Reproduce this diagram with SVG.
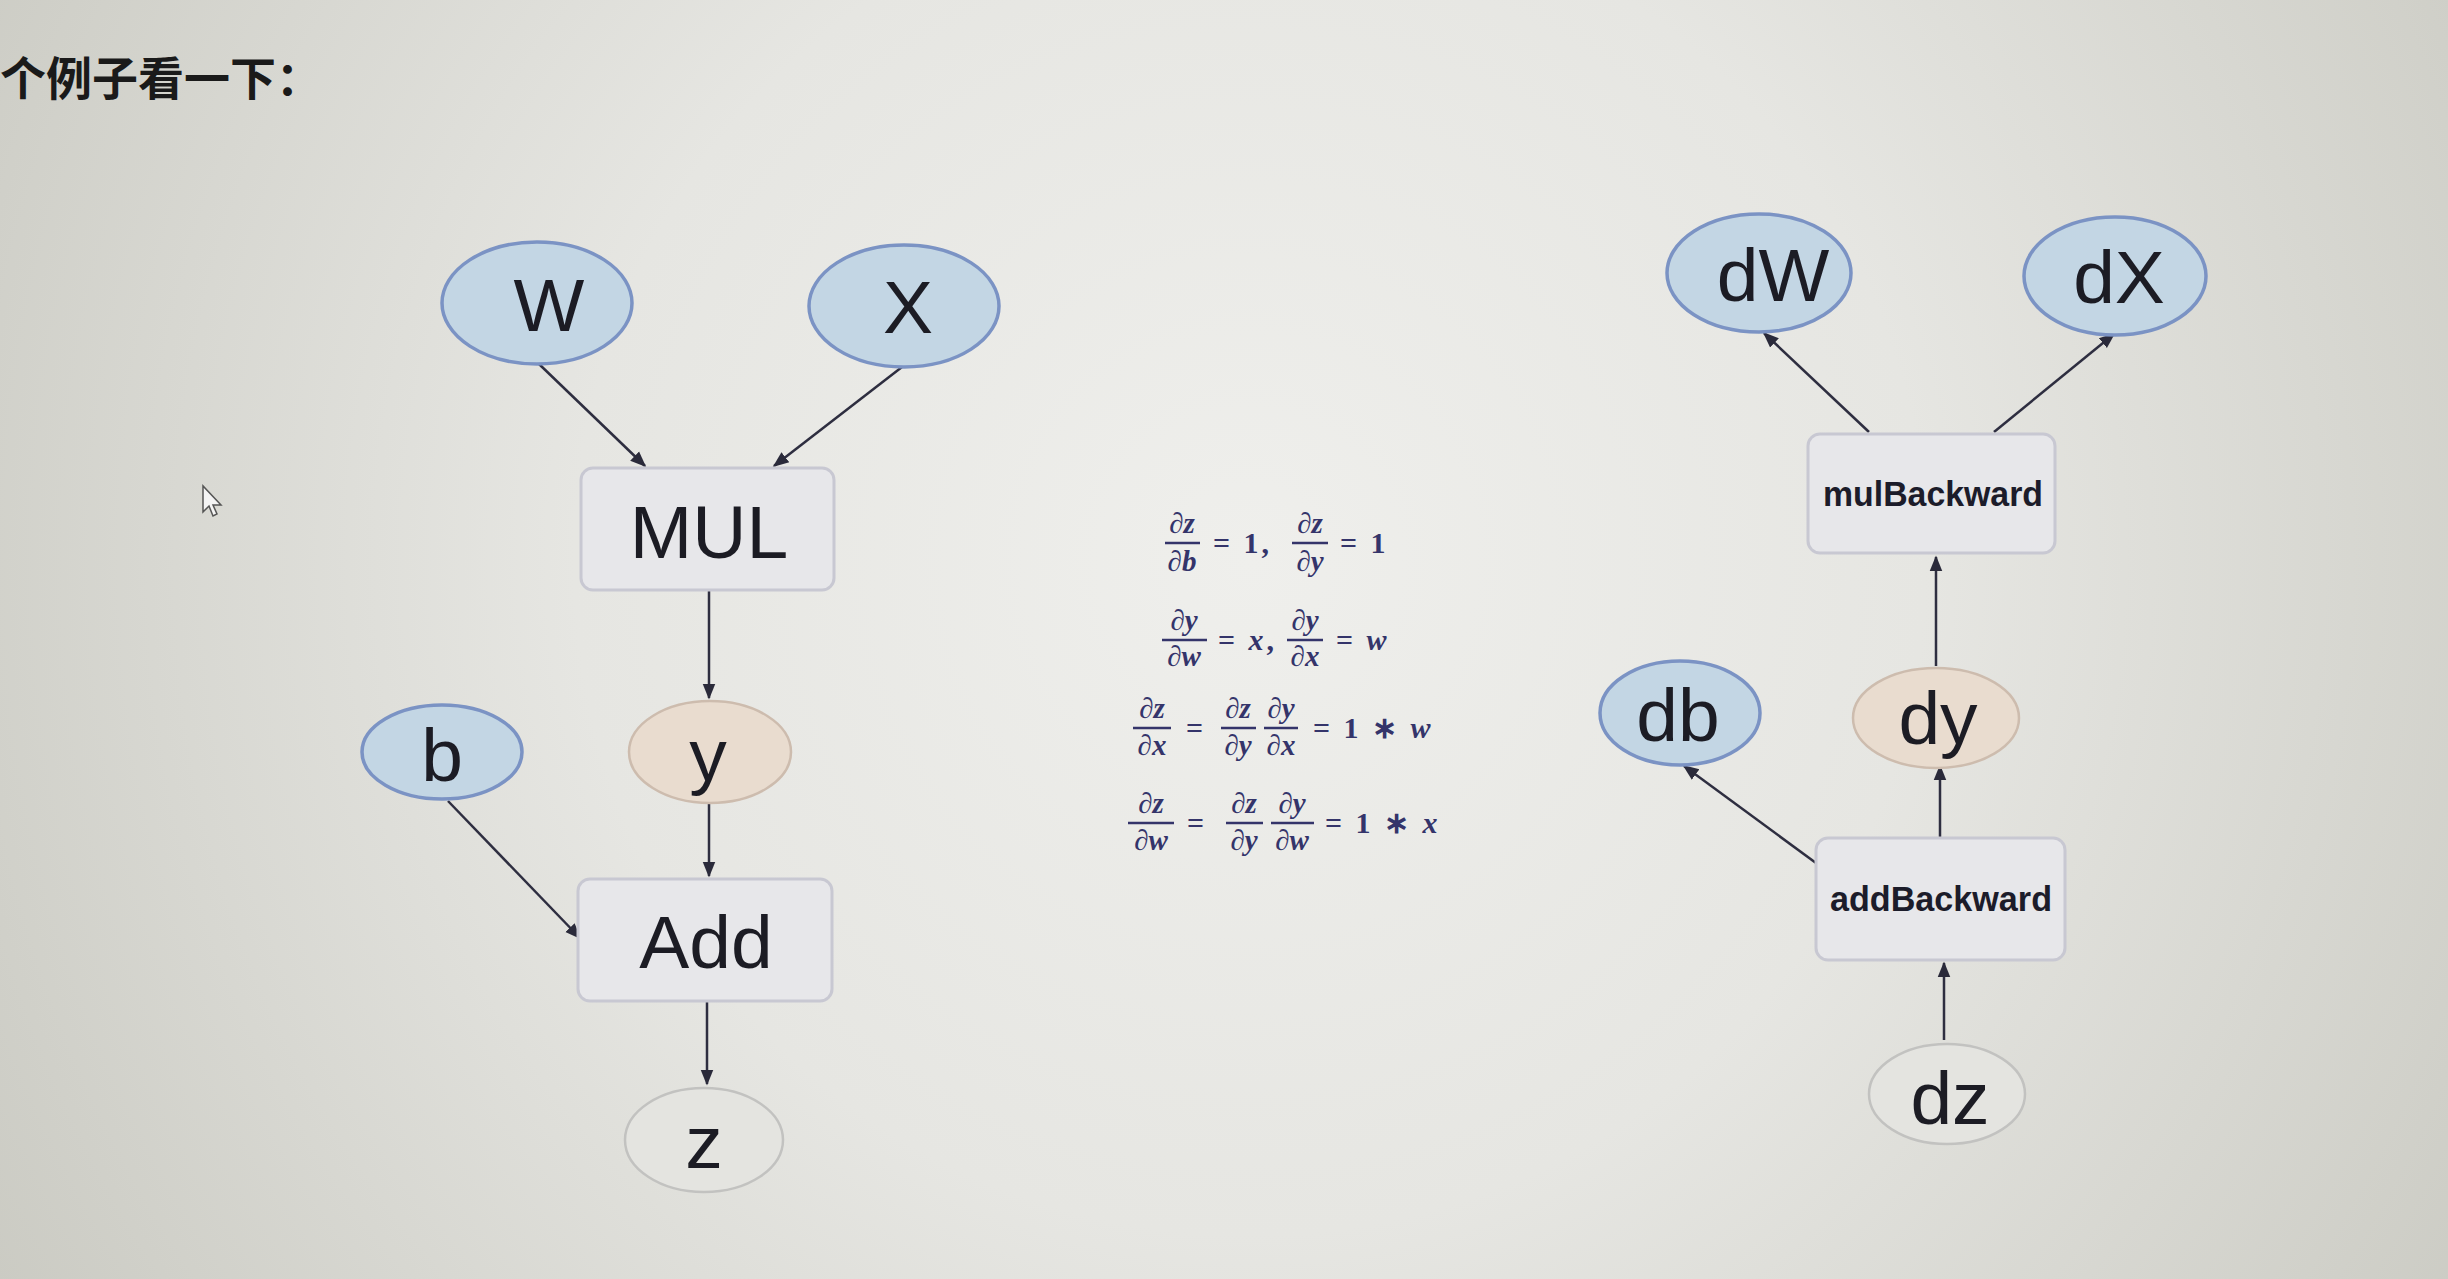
<svg xmlns="http://www.w3.org/2000/svg" width="2448" height="1279" viewBox="0 0 2448 1279">
<defs>
<radialGradient id="bg" cx="1250" cy="560" r="1500" gradientUnits="userSpaceOnUse">
<stop offset="0" stop-color="#efefec"/>
<stop offset="0.45" stop-color="#e6e6e2"/>
<stop offset="1" stop-color="#c9c9c1"/>
</radialGradient>
<marker id="ah2" viewBox="0 0 10 10" refX="9" refY="5" markerWidth="16" markerHeight="16" orient="auto" markerUnits="userSpaceOnUse">
<path d="M0,1 L10,5 L0,9 z" fill="#2a2a3a"/>
</marker>
</defs>
<style>
.blue{fill:#c3d6e4;stroke:#7b93c4;stroke-width:3.5}
.peach{fill:#e9dccf;stroke:#cdbcae;stroke-width:2.5}
.gray{fill:#e4e4e0;stroke:#c2c2c0;stroke-width:2.5}
.box{fill:#e7e7ea;stroke:#c8c8d2;stroke-width:3}
.lbl{font-family:"Liberation Sans",Arial,sans-serif;font-size:75px;fill:#1c1c24;text-anchor:middle}
.slbl{font-family:"Liberation Sans",Arial,sans-serif;font-size:35px;font-weight:bold;fill:#1c1c2a;text-anchor:middle}
.edge{stroke:#2e2e40;stroke-width:2.5;fill:none;marker-end:url(#ah2)}
.f{font-family:"Liberation Serif","Times New Roman",serif;font-size:29px;font-weight:bold;fill:#34346a;text-anchor:middle;font-style:italic}
.fo{font-family:"Liberation Serif","Times New Roman",serif;font-size:30px;font-weight:bold;fill:#34346a;font-style:normal;letter-spacing:3px}
.bar{stroke:#34346a;stroke-width:2.5}
.title{font-family:"Noto Sans CJK SC","Liberation Sans",sans-serif;font-size:46px;font-weight:bold;fill:#1a1a1a}
</style>
<rect x="0" y="0" width="2448" height="1279" fill="url(#bg)"/>

<text class="title" x="0" y="95">个例子看一下：</text>

<path d="M203,486 L203,512 L209,506 L213,516 L217,514 L213,505 L221,505 Z" fill="#f4f4f4" stroke="#555" stroke-width="1.5"/>

<g id="connectors">
<line class="edge" x1="539" y1="364" x2="645" y2="466"/>
<line class="edge" x1="902" y1="367" x2="774" y2="466"/>
<line class="edge" x1="709" y1="590" x2="709" y2="698"/>
<line class="edge" x1="709" y1="804" x2="709" y2="876"/>
<line class="edge" x1="448" y1="801" x2="580" y2="938"/>
<line class="edge" x1="707" y1="1001" x2="707" y2="1084"/>
<line class="edge" x1="1869" y1="432" x2="1764" y2="333"/>
<line class="edge" x1="1994" y1="432" x2="2114" y2="334"/>
<line class="edge" x1="1936" y1="666" x2="1936" y2="557"/>
<line class="edge" x1="1940" y1="838" x2="1940" y2="766"/>
<line class="edge" x1="1816" y1="863" x2="1684" y2="766"/>
<line class="edge" x1="1944" y1="1040" x2="1944" y2="963"/>
</g>

<g id="node-W"><ellipse class="blue" cx="537" cy="303" rx="95" ry="61"/><text class="lbl" x="549" y="331">W</text></g>
<g id="node-X"><ellipse class="blue" cx="904" cy="306" rx="95" ry="61"/><text class="lbl" x="908" y="333">X</text></g>
<g id="node-MUL"><rect class="box" x="581" y="468" width="253" height="122" rx="12"/><text class="lbl" x="709" y="558">MUL</text></g>
<g id="node-b"><ellipse class="blue" cx="442" cy="752" rx="80" ry="47"/><text class="lbl" x="442" y="781">b</text></g>
<g id="node-y"><ellipse class="peach" cx="710" cy="752" rx="81" ry="51"/><text class="lbl" x="708" y="781">y</text></g>
<g id="node-Add"><rect class="box" x="578" y="879" width="254" height="122" rx="12"/><text class="lbl" x="706" y="968">Add</text></g>
<g id="node-z"><ellipse class="gray" cx="704" cy="1140" rx="79" ry="52"/><text class="lbl" x="704" y="1168">z</text></g>

<g id="formulas">
<line class="bar" x1="1165" y1="543" x2="1200" y2="543"/><text class="f" x="1182" y="533">∂z</text><text class="f" x="1182" y="571">∂b</text>
<text class="fo" x="1213" y="553">= 1,</text>
<line class="bar" x1="1292" y1="543" x2="1328" y2="543"/><text class="f" x="1310" y="533">∂z</text><text class="f" x="1310" y="571">∂y</text>
<text class="fo" x="1340" y="553">= 1</text>

<line class="bar" x1="1162" y1="640" x2="1207" y2="640"/><text class="f" x="1184" y="630">∂y</text><text class="f" x="1184" y="666">∂w</text>
<text class="fo" x="1218" y="650">= <tspan font-style="italic">x</tspan>,</text>
<line class="bar" x1="1287" y1="640" x2="1323" y2="640"/><text class="f" x="1305" y="630">∂y</text><text class="f" x="1305" y="666">∂x</text>
<text class="fo" x="1336" y="650">= <tspan font-style="italic">w</tspan></text>

<line class="bar" x1="1133" y1="728" x2="1171" y2="728"/><text class="f" x="1152" y="718">∂z</text><text class="f" x="1152" y="755">∂x</text>
<text class="fo" x="1186" y="738">=</text>
<line class="bar" x1="1221" y1="728" x2="1256" y2="728"/><text class="f" x="1238" y="718">∂z</text><text class="f" x="1238" y="755">∂y</text>
<line class="bar" x1="1264" y1="728" x2="1298" y2="728"/><text class="f" x="1281" y="718">∂y</text><text class="f" x="1281" y="755">∂x</text>
<text class="fo" x="1313" y="738">= 1 ∗ <tspan font-style="italic">w</tspan></text>

<line class="bar" x1="1128" y1="823" x2="1174" y2="823"/><text class="f" x="1151" y="813">∂z</text><text class="f" x="1151" y="850">∂w</text>
<text class="fo" x="1187" y="833">=</text>
<line class="bar" x1="1226" y1="823" x2="1263" y2="823"/><text class="f" x="1244" y="813">∂z</text><text class="f" x="1244" y="850">∂y</text>
<line class="bar" x1="1271" y1="823" x2="1314" y2="823"/><text class="f" x="1292" y="813">∂y</text><text class="f" x="1292" y="850">∂w</text>
<text class="fo" x="1325" y="833">= 1 ∗ <tspan font-style="italic">x</tspan></text>
</g>

<g id="node-dW"><ellipse class="blue" cx="1759" cy="273" rx="92" ry="59"/><text class="lbl" x="1773" y="301">dW</text></g>
<g id="node-dX"><ellipse class="blue" cx="2115" cy="276" rx="91" ry="59"/><text class="lbl" x="2119" y="303">dX</text></g>
<g id="node-mulBackward"><rect class="box" x="1808" y="434" width="247" height="119" rx="12"/><text class="slbl" x="1933" y="506" textLength="220" lengthAdjust="spacingAndGlyphs">mulBackward</text></g>
<g id="node-db"><ellipse class="blue" cx="1680" cy="713" rx="80" ry="52"/><text class="lbl" x="1678" y="741">db</text></g>
<g id="node-dy"><ellipse class="peach" cx="1936" cy="718" rx="83" ry="50"/><text class="lbl" x="1938" y="744">dy</text></g>
<g id="node-addBackward"><rect class="box" x="1816" y="838" width="249" height="122" rx="12"/><text class="slbl" x="1941" y="911" textLength="222" lengthAdjust="spacingAndGlyphs">addBackward</text></g>
<g id="node-dz"><ellipse class="gray" cx="1947" cy="1094" rx="78" ry="50"/><text class="lbl" x="1950" y="1124">dz</text></g>
</svg>
